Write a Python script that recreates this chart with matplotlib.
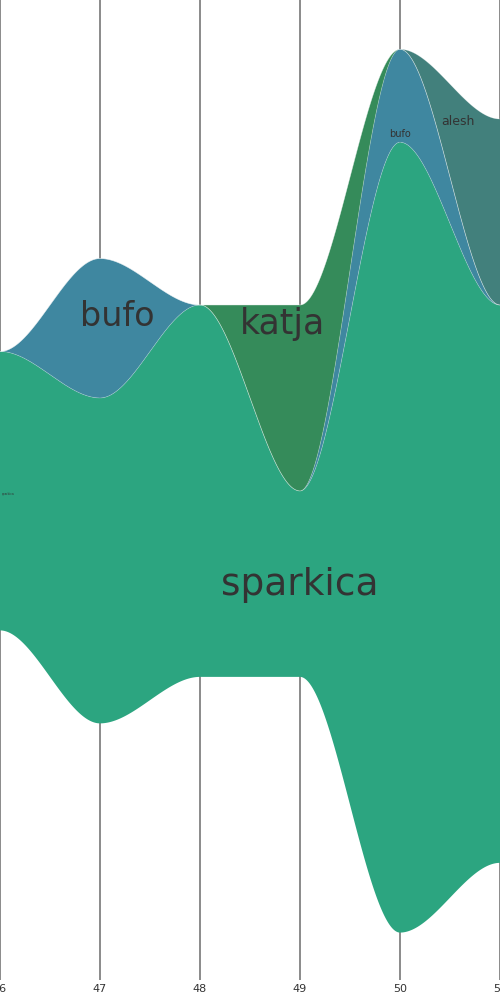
import numpy as np
import matplotlib
matplotlib.use("Agg")
import matplotlib.pyplot as plt

# weeks on the x axis
weeks = [46, 47, 48, 49, 50, 51]

# layers, bottom to top
names = ["sparkica", "bufo", "katja", "alesh"]
sparkica = [6, 7, 8, 4, 17, 12]
bufo = [0, 3, 0, 0, 2, 0]
katja = [0, 0, 0, 4, 0, 0]
alesh = [0, 0, 0, 0, 0, 4]
colors = ["#2ca580", "#3f87a0", "#358b5a", "#42807c"]

# labels: text, x, y, size
label_text = ["bufo", "katja", "sparkica", "bufo", "alesh", "sparkica"]
label_x = [47.17, 48.83, 49.0, 50.0, 50.58, 46.08]
label_y = [3.76, 3.59, -2.02, 7.68, 7.94, -0.06]
label_size = [24, 25, 27, 7, 9, 2.2]


def smooth(xs, ys, xx):
    # hermite with flat tangents at every data point
    xs = np.asarray(xs, float)
    ys = np.asarray(ys, float)
    i = np.clip(np.searchsorted(xs, xx, side="right") - 1, 0, len(xs) - 2)
    t = (xx - xs[i]) / (xs[i + 1] - xs[i])
    h = 3 * t ** 2 - 2 * t ** 3
    return ys[i] + (ys[i + 1] - ys[i]) * h


layers = np.array([sparkica, bufo, katja, alesh], float)
total = layers.sum(axis=0)
base = -total / 2
cum = np.vstack([base, base + np.cumsum(layers, axis=0)])

xx = np.linspace(weeks[0], weeks[-1], 1000)

fig = plt.figure(figsize=(5, 10), dpi=100)
ax = fig.add_axes([0, 0.02, 1, 0.98])

for k in range(len(names)):
    lo = smooth(weeks, cum[k], xx)
    hi = smooth(weeks, cum[k + 1], xx)
    ax.fill_between(xx, lo, hi, color=colors[k], lw=0, zorder=2)
    ax.plot(xx, hi, color="white", lw=0.5, alpha=0.3, zorder=3)

for w in weeks:
    ax.axvline(w, color="#777777", lw=1.2, zorder=1)

for t, x, y, s in zip(label_text, label_x, label_y, label_size):
    ax.text(x, y, t, fontsize=s, color="#333333", ha="center", va="center", zorder=4)

ax.set_xlim(weeks[0], weeks[-1])
ax.set_ylim(-10.52, 10.56)
ax.set_xticks(weeks)
ax.set_xticklabels([str(w) for w in weeks])
ax.set_yticks([])
ax.tick_params(axis="x", length=0, pad=3, labelsize=8, labelcolor="#333333")
for s in ax.spines.values():
    s.set_visible(False)

fig.savefig("out.png", dpi=100)
